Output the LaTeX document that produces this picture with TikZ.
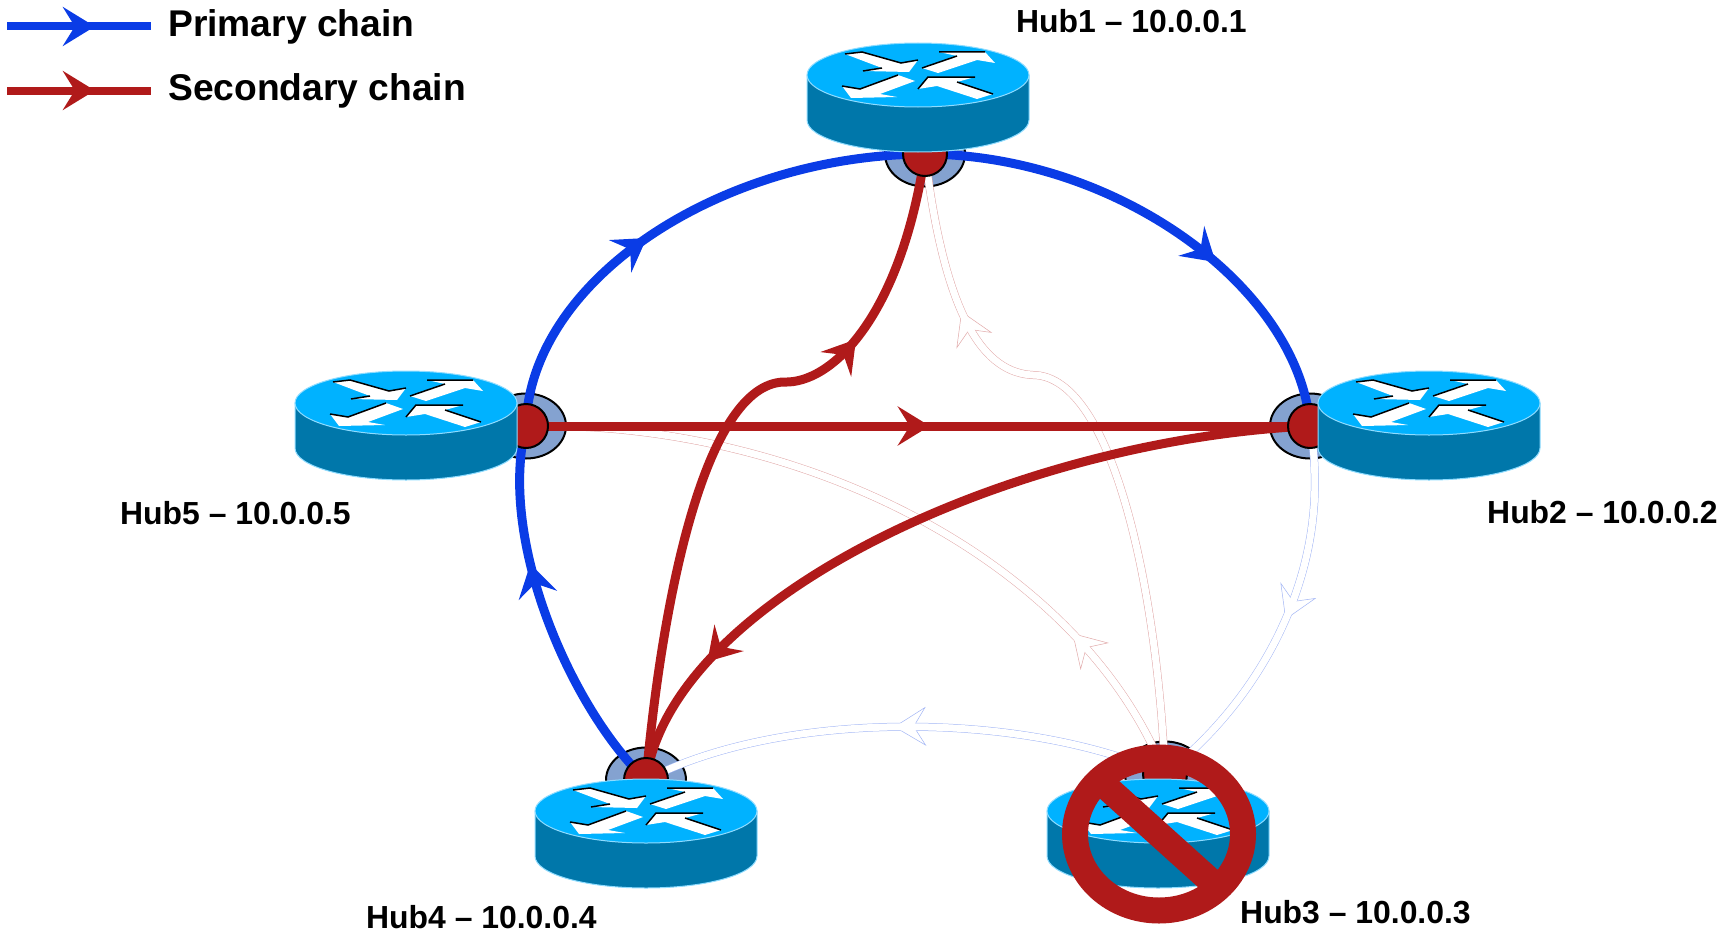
\documentclass[tikz,border=0pt]{standalone}
\usepackage{fontspec}
\setmainfont{Liberation Sans}
\usetikzlibrary{arrows.meta}
\usetikzlibrary{shapes.geometric,decorations.markings}

\definecolor{chainblue}{HTML}{0A3CE6}
\definecolor{chainred}{HTML}{B01A1A}
\definecolor{hubtop}{HTML}{00B2FF}
\definecolor{hubside}{HTML}{0077AA}
\definecolor{hubrim}{HTML}{8FDCFF}
\definecolor{portblue}{HTML}{84A2D0}

\tikzset{
  % solid links: position of the arrow head and colour
  chain/.style n args={2}{draw=#2,line width=9pt,postaction={decorate,decoration={markings,
      mark=at position #1 with {\arrow[#2]{Stealth[length=32pt,width=39pt,inset=12pt]}}}}},
  % links through the dead hub, only a pale outline is left
  ghost/.style n args={2}{draw=#2!38,line width=8pt,postaction={decorate,decoration={markings,
      mark=at position #1 with {\arrow{Stealth[length=32pt,width=39pt,inset=12pt,fill=white,color=#2!38,line width=.5pt]}}}},
    postaction={draw=white,line width=7pt}},
  portouter/.style={draw=black,line width=2pt,fill=portblue,ellipse,inner sep=0pt,minimum width=80pt,minimum height=65pt},
  portinner/.style={draw=black,line width=2pt,fill=chainred,circle,inner sep=0pt,minimum size=44pt},
  hublabel/.style={anchor=base west,inner sep=0pt,font=\fontsize{31.9}{36}\selectfont\bfseries},
  legendlabel/.style={anchor=base west,inner sep=0pt,font=\fontsize{37.2}{40}\selectfont\bfseries},
  pics/hub/.style={code={
    \draw[draw=hubrim,fill=hubside,line width=1pt] (-111,0) -- (-111,45)
      .. controls (-111,63) and (-61,77) .. (0,77) .. controls (61,77) and (111,63) .. (111,45) -- (111,0) -- cycle;
    \draw[draw=hubrim,fill=hubtop,line width=1pt] (0,0) ellipse [x radius=111,y radius=32];
    \fill[white] (-73,-21) -- (-56,-23) -- (-17,-12) -- (0,-15) -- (-9,-3) -- (-55,-4) -- (-36,-7) -- cycle;
    \fill[white] (4,-7) -- (39,-19) -- (21,-23) -- (67,-23) -- (77,-12) -- (59,-15) -- (20,-2) -- cycle;
    \fill[white] (-76,11) -- (-58,14) -- (-20,0) -- (-3,6) -- (-38,19) -- (-21,22) -- (-67,23) -- cycle;
    \fill[white] (0,14) -- (10,2) -- (57,2) -- (39,7) -- (75,19) -- (59,24) -- (19,11) -- cycle;
    \draw[black,line width=1.5pt] (-73,-21) -- (-56,-23) -- (-17,-12) -- (0,-15) (-55,-4) -- (-36,-7);
    \draw[black,line width=1.5pt] (4,-7) -- (39,-19) (21,-23) -- (67,-23);
    \draw[black,line width=1.5pt] (-76,11) -- (-58,14) -- (-20,0);
    \draw[black,line width=1.5pt] (0,14) -- (10,2) -- (57,2) (39,7) -- (75,19);
  }}
}

\begin{document}
\begin{tikzpicture}[x=1pt,y=-1pt]
  \useasboundingbox (0,0) rectangle (1720,934);

  \coordinate (port1) at (925,154);
  \coordinate (port2) at (1310,426);
  \coordinate (port3) at (1165,774);
  \coordinate (port4) at (646,780);
  \coordinate (port5) at (526,426);

  % Rings under the links
  \node[portouter] (ring1) at (port1) {};
  \node[portouter] (ring2) at (port2) {};
  \node[portouter] (ring3) at (port3) {};
  \node[portouter] (ring4) at (port4) {};
  \node[portouter] (ring5) at (port5) {};

  % Links of the failed hub
  \path[ghost={.5}{chainblue}] (port2) .. controls (1335,570) and (1260,700) .. (port3);
  \path[ghost={.52}{chainblue}] (port3) .. controls (1020,710) and (780,710) .. (port4);
  \path[ghost={.22}{chainred}] (port3) .. controls (1080,560) and (800,420) .. (port5);
  \path[ghost={.77}{chainred}] (port3) .. controls (1158,600) and (1115,376) .. (1033,375)
    .. controls (985,373) and (945,320) .. (port1);

  % Primary chain
  \path[chain={.64}{chainblue}] (port4) .. controls (572,710) and (497,540) .. (port5);
  \path[chain={.44}{chainblue}] (port5) .. controls (530,280) and (720,155) .. (port1);
  \path[chain={.62}{chainblue}] (port1) .. controls (1120,155) and (1300,290) .. (port2);

  % Secondary chain
  \path[chain={.515}{chainred}] (port5) -- (port2);
  \path[chain={.83}{chainred}] (port2) .. controls (1010,440) and (670,600) .. (port4);
  \path[chain={.725}{chainred}] (port4) .. controls (662,600) and (705,384) .. (784,382)
    .. controls (830,384) and (900,320) .. (port1);

  \node[portinner] (dot1) at (port1) {};
  \node[portinner] (dot2) at (port2) {};
  \node[portinner] (dot3) at (port3) {};
  \node[portinner] (dot4) at (port4) {};
  \node[portinner] (dot5) at (port5) {};

  \pic (hub1) at (918,75) {hub};
  \pic (hub2) at (1429,403) {hub};
  \pic (hub3) at (1158,811) {hub};
  \pic (hub4) at (646,811) {hub};
  \pic (hub5) at (406,403) {hub};

  % Hub3 is down
  \draw[chainred,line width=26pt] (1159,834) ellipse [x radius=84,y radius=76.5];
  \draw[chainred,line width=26pt] (1103,784) -- (1214,884);

  \node[hublabel] (label1) at (1016,33) {Hub1 – 10.0.0.1};
  \node[hublabel] (label2) at (1487,523) {Hub2 – 10.0.0.2};
  \node[hublabel] (label3) at (1240,923) {Hub3 – 10.0.0.3};
  \node[hublabel] (label4) at (366,928) {Hub4 – 10.0.0.4};
  \node[hublabel] (label5) at (120,524) {Hub5 – 10.0.0.5};

  % Legend
  \coordinate (primaryA) at (7,26.5);
  \coordinate (primaryB) at (151,26.5);
  \coordinate (secondaryA) at (7,90.5);
  \coordinate (secondaryB) at (151,90.5);
  \path[chain={.61}{chainblue},line width=8pt] (primaryA) -- (primaryB);
  \path[chain={.61}{chainred},line width=8pt] (secondaryA) -- (secondaryB);
  \node[legendlabel] (primary) at (168,37) {Primary chain};
  \node[legendlabel] (secondary) at (168,100) {Secondary chain};
\end{tikzpicture}
\end{document}
